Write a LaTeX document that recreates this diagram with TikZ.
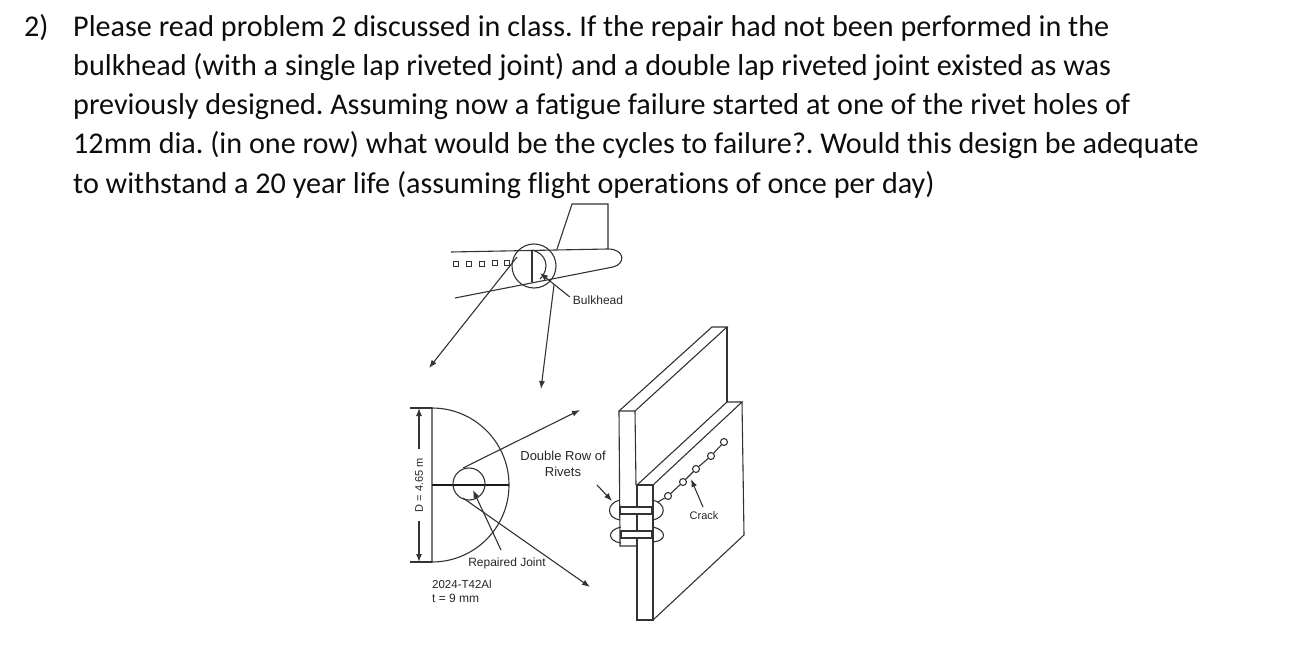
\documentclass[tikz,border=0pt]{standalone}
\usepackage{fontspec}
\setmainfont[Ligatures=NoCommon]{Carlito}
\newfontfamily\labelfont{Liberation Sans}
\usetikzlibrary{arrows.meta}
\tikzset{
  para/.style={anchor=base west,inner sep=0pt,font=\fontsize{30.15}{32}\selectfont\frenchspacing,text=black!95},
  lab/.style={inner sep=0pt,font=\labelfont\fontsize{12}{16}\selectfont,text=black!85,align=center},
  ink/.style={draw=black!80,line width=1.1pt},
  heavy/.style={draw=black!90,line width=2pt},
  lead/.style={ink,-{Latex[length=8pt,width=6pt]}},
  win/.style={ink,line width=0.8pt,minimum size=4.5pt,inner sep=0pt},
  hole/.style={ink,circle,fill=white,minimum size=7pt,inner sep=0pt}
}
\begin{document}
\begin{tikzpicture}[x=1pt,y=-1pt]
  \useasboundingbox (0,0) rectangle (1290,668);
  % question text
  \node[para] (num) at (24,37) {2)};
  \node[para] (l1) at (73,37) {Please read problem 2 discussed in class. If the repair had not been performed in the};
  \node[para] (l2) at (73,76) {bulkhead (with a single lap riveted joint) and a double lap riveted joint existed as was};
  \node[para] (l3) at (73,115) {previously designed. Assuming now a fatigue failure started at one of the rivet holes of};
  \node[para] (l4) at (73,154) {12mm dia. (in one row) what would be the cycles to failure?. Would this design be adequate};
  \node[para] (l5) at (73,194) {to withstand a 20 year life (assuming flight operations of once per day)};

  % aircraft
  \draw[ink] (451,252) -- (608,249) .. controls (625,249) and (626,264) .. (613,267) -- (455,298);
  \draw[ink] (557,249) -- (572,204) -- (608,204) -- (608,249);
  \foreach \x/\y in {456/264,469/264,482/264,495/263,507/263}
    \node[win,draw] (w\x) at (\x,\y) {};
  \node[ink,circle,draw,minimum size=44pt,inner sep=0pt] (detail) at (534,266) {};
  \draw[ink] (532,250) -- (532,282);
  \draw[ink] (532,250) .. controls (546,253) and (551,268) .. (540,279);

  \node[lab] (bulk) at (598,300) {Bulkhead};
  \coordinate (bulktip) at (540,273);
  \draw[lead] (bulk.west) ++(-3,-3) -- (bulktip);
  \coordinate (upa) at (517,257);
  \coordinate (upb) at (429,368);
  \coordinate (upc) at (554,285);
  \coordinate (upd) at (541,389);
  \draw[lead] (upa) -- (upb);
  \draw[lead] (upc) -- (upd);

  % section
  \coordinate (sectop) at (432,408);
  \coordinate (secbot) at (432,562);
  \coordinate (secmid) at (432,485);
  \coordinate (secend) at (509,485);
  \draw[ink] (sectop) arc (-90:90:77) -- cycle;
  \draw[heavy] (secmid) -- (secend);
  \node[ink,circle,draw,minimum size=32pt,inner sep=0pt] (joint) at (469,484) {};
  \coordinate (jta) at (463,468);
  \coordinate (jtb) at (580,410);
  \coordinate (jtc) at (463,498);
  \coordinate (jtd) at (590,587);
  \draw[lead] (jta) -- (jtb);
  \draw[lead] (jtc) -- (jtd);

  % diameter
  \coordinate (ticka) at (410,408);
  \coordinate (tickb) at (410,562);
  \coordinate (topdim) at (419,408);
  \coordinate (botdim) at (419,562);
  \draw[ink] (ticka) -- (sectop);
  \draw[ink] (tickb) -- (secbot);
  \node[lab,rotate=90,font=\labelfont\fontsize{11}{16}\selectfont] (dia) at (419,485) {D = 4.65 m};
  \draw[lead] (dia.east) ++(0,-9) -- (topdim);
  \draw[lead] (dia.west) ++(0,9) -- (botdim);

  \node[lab,font=\labelfont\fontsize{13}{16}\selectfont] (rivets) at (563,464) {Double Row of\\Rivets};
  \coordinate (rivtail) at (597,485);
  \coordinate (rivtip) at (612,501);
  \draw[lead] (rivtail) -- (rivtip);
  \node[lab] (repair) at (507,563) {Repaired Joint};
  \coordinate (reptail) at (501,550);
  \coordinate (reptip) at (473,490);
  \draw[lead] (reptail) -- (reptip);
  \node[lab,anchor=west,font=\labelfont\fontsize{11.5}{16}\selectfont] (alloy) at (432,584) {2024-T42Al};
  \node[lab,anchor=west] (thick) at (432,598) {t = 9 mm};

  % back plate
  \draw[ink] (636,485) -- (635,411) -- (619,411) -- (620,546) -- (636,546);
  \draw[ink] (619,411) -- (712,327) -- (727,327) -- (635,411);
  \draw[ink] (727,327) -- (727,402);
  % front plate
  \draw[ink] (637,485) -- (653,485) -- (653,620) -- (637,620) -- cycle;
  \draw[ink] (637,485) -- (727,402) -- (742,402) -- (653,485);
  \draw[ink] (742,402) -- (744,535) -- (653,620);

  % rivets
  \draw[ink] (620,500) .. controls (606,503) and (606,518) .. (620,520);
  \draw[ink] (652,500) .. controls (667,503) and (667,518) .. (652,520);
  \draw[ink] (621,527) .. controls (607,530) and (607,541) .. (621,543);
  \draw[ink] (653,527) .. controls (667,530) and (667,541) .. (653,542);
  \draw[ink,fill=white] (620,507) rectangle (652,514);
  \draw[ink,fill=white] (621,531) rectangle (652,538);

  % crack
  \coordinate (crackend) at (658,502);
  \node[hole,draw] (c1) at (668,496) {};
  \node[hole,draw] (c2) at (683,482) {};
  \node[hole,draw] (c3) at (696,469) {};
  \node[hole,draw] (c4) at (711,456) {};
  \node[hole,draw] (c5) at (724,442) {};
  \draw[ink] (crackend) -- (c1) -- (c2) -- (c3) -- (c4) -- (c5);
  \node[lab,font=\labelfont\fontsize{11}{16}\selectfont] (crack) at (704,516) {Crack};
  \coordinate (cracktail) at (703,507);
  \coordinate (cracktip) at (691,479);
  \draw[lead] (cracktail) -- (cracktip);
\end{tikzpicture}
\end{document}
